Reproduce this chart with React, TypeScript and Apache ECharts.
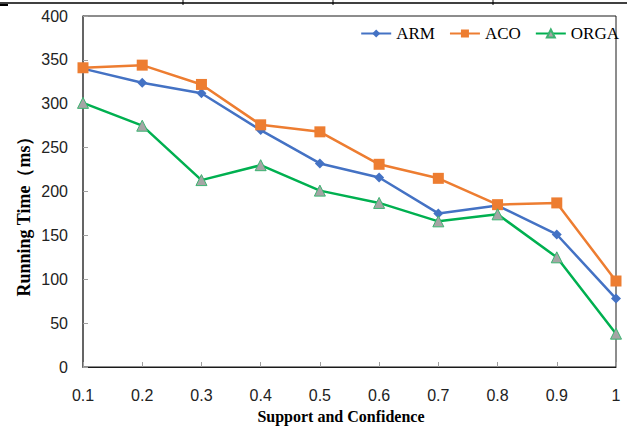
import React, { useEffect, useRef } from "react";
import * as echarts from "echarts";

const categories = ["0.1", "0.2", "0.3", "0.4", "0.5", "0.6", "0.7", "0.8", "0.9", "1"];
const armValues = [340, 324, 312, 270, 232, 216, 175, 184, 151, 78];
const acoValues = [341, 344, 322, 276, 268, 231, 215, 185, 187, 98];
const orgaValues = [301, 275, 213, 230, 201, 187, 166, 174, 125, 38];
const yTicks = { min: 0, max: 400, interval: 50 };
const xTitle = "Support and Confidence";
const yTitle = "Running Time（ms）";

const tickFont = "'Liberation Sans Narrow', 'Liberation Sans', sans-serif";
const serif = "'Liberation Serif', 'Times New Roman', serif";

export default function App() {
  const ref = useRef<HTMLDivElement>(null);
  useEffect(() => {
    if (!ref.current) return;
    const chart = echarts.init(ref.current, undefined, { renderer: "svg" });
    chart.setOption({
      animation: false,
      backgroundColor: "#ffffff",
      grid: {
        left: 83,
        right: 11,
        top: 16,
        bottom: 59,
        show: true,
        borderColor: "#1a1a1a",
        borderWidth: 1,
      },
      legend: {
        top: 20,
        right: 3,
        itemWidth: 30,
        itemHeight: 10,
        itemGap: 14,
        textStyle: { fontFamily: serif, fontSize: 17, color: "#000" },
        data: ["ARM", "ACO", "ORGA"],
      },
      xAxis: {
        type: "category",
        data: categories,
        boundaryGap: false,
        axisLine: { lineStyle: { color: "#1a1a1a", width: 1 } },
        axisTick: { inside: true, length: 5, lineStyle: { color: "#a0a0a0" } },
        axisLabel: { fontFamily: tickFont, fontSize: 16, color: "#222", margin: 20 },
        splitLine: { show: false },
      },
      yAxis: {
        type: "value",
        min: yTicks.min,
        max: yTicks.max,
        interval: yTicks.interval,
        axisLine: { show: true, lineStyle: { color: "#595959", width: 1.5 } },
        axisTick: { show: true, inside: true, length: 5, lineStyle: { color: "#a0a0a0" } },
        axisLabel: { fontFamily: tickFont, fontSize: 16, color: "#222", margin: 15 },
        splitLine: { show: false },
      },
      series: [
        {
          name: "ARM",
          type: "line",
          data: armValues,
          symbol: "diamond",
          symbolSize: 10,
          lineStyle: { color: "#4472C4", width: 2.5 },
          itemStyle: { color: "#4472C4" },
        },
        {
          name: "ACO",
          type: "line",
          data: acoValues,
          symbol: "rect",
          symbolSize: 11,
          lineStyle: { color: "#ED7D31", width: 2.5 },
          itemStyle: { color: "#ED7D31" },
        },
        {
          name: "ORGA",
          type: "line",
          data: orgaValues,
          symbol: "triangle",
          symbolSize: 11,
          lineStyle: { color: "#00B050", width: 2.5 },
          itemStyle: { color: "#A5A5A5", borderColor: "#3cb371", borderWidth: 1 },
        },
      ],
      graphic: [
        { type: "line", shape: { x1: 0, y1: 3, x2: 627, y2: 3 }, style: { stroke: "#000", lineWidth: 1.5 } },
        { type: "line", shape: { x1: 0, y1: 5, x2: 8, y2: 5 }, style: { stroke: "#000", lineWidth: 2 } },
        { type: "line", shape: { x1: 183, y1: 0, x2: 183, y2: 5 }, style: { stroke: "#000", lineWidth: 1 } },
        { type: "line", shape: { x1: 333, y1: 0, x2: 333, y2: 5 }, style: { stroke: "#000", lineWidth: 1 } },
        { type: "line", shape: { x1: 493, y1: 0, x2: 493, y2: 5 }, style: { stroke: "#000", lineWidth: 1 } },
        {
          type: "text",
          x: 341,
          y: 416,
          style: {
            text: xTitle,
            fontFamily: serif,
            fontSize: 16,
            fontWeight: "bold",
            fill: "#000",
            textAlign: "center",
            textVerticalAlign: "middle",
          },
        },
        {
          type: "text",
          x: 24,
          y: 212,
          rotation: Math.PI / 2,
          style: {
            text: yTitle,
            fontFamily: serif,
            fontSize: 18,
            fontWeight: "bold",
            fill: "#000",
            textAlign: "center",
            textVerticalAlign: "middle",
          },
        },
      ],
    });
    return () => chart.dispose();
  }, []);
  return <div ref={ref} style={{ width: 627, height: 426, position: "fixed", left: 0, top: 0 }} />;
}
